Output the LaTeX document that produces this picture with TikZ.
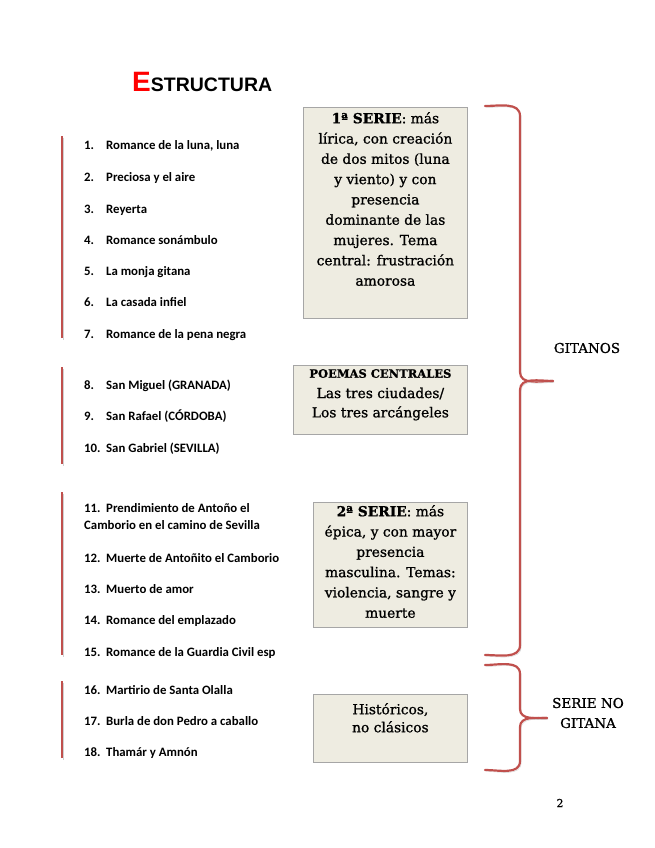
\documentclass[tikz,border=0pt]{standalone}
\usepackage{fontspec}
\setmainfont{DejaVu Serif}[FakeBold=1]
\setsansfont{Liberation Sans}
\newfontfamily\listfont{Carlito}
\usepackage{xcolor}
\usetikzlibrary{positioning}

\definecolor{boxfill}{HTML}{EEECE1}
\definecolor{boxline}{HTML}{A6A6A6}
\definecolor{bracered}{HTML}{C0504D}
\newcommand{\lnum}[1]{\makebox[22pt][l]{#1}}

\begin{document}
\begin{tikzpicture}[x=1pt, y=-1pt,
  item/.style={anchor=west, inner sep=0pt, text height=8pt, text depth=2.5pt, yshift=-2.5pt,
               font=\listfont\bfseries\fontsize{12.8}{17}\selectfont},
  twoline/.style={anchor=north west, inner sep=0pt, align=left, yshift=-2.5pt,
                  font=\listfont\bfseries\fontsize{12.8}{17}\selectfont},
  frame/.style={draw=boxline, line width=0.8pt, fill=boxfill, inner sep=0pt,
                anchor=north west},
  boxtext/.style={inner sep=0pt, align=center,
                  font=\fontsize{13.8}{20.3}\selectfont},
  side/.style={align=center, font=\fontsize{13.5}{20}\selectfont},
  shadow/.style={preaction={draw=black!18, transform canvas={shift={(1.2pt,-1.5pt)}}}},
  bar/.style={draw=bracered, line width=1.5pt, shadow},
  brace/.style={draw=bracered, line width=2.2pt, line cap=round, shadow}
]
  \useasboundingbox (0,0) rectangle (655,848);

  % title
  \node[anchor=base west, inner sep=0pt, font=\sffamily\bfseries] (title) at (132,92)
    {\textcolor{red}{\fontsize{28}{28}\selectfont E}\fontsize{19.5}{19.5}\selectfont STRUCTURA};

  % list of romances
  \node[item] (i1) at (84,144) {\lnum{1.}Romance de la luna, luna};
  \node[item] (i2) at (84,176) {\lnum{2.}Preciosa y el aire};
  \node[item] (i3) at (84,208) {\lnum{3.}Reyerta};
  \node[item] (i4) at (84,239) {\lnum{4.}Romance sonámbulo};
  \node[item] (i5) at (84,270) {\lnum{5.}La monja gitana};
  \node[item] (i6) at (84,301) {\lnum{6.}La casada infiel};
  \node[item] (i7) at (84,333) {\lnum{7.}Romance de la pena negra};

  \node[item] (i8) at (84,384) {\lnum{8.}San Miguel (GRANADA)};
  \node[item] (i9) at (84,415) {\lnum{9.}San Rafael (CÓRDOBA)};
  \node[item] (i10) at (84,447) {\lnum{10.}San Gabriel (SEVILLA)};

  \node[twoline] (i11) at (84,501)
    {\lnum{11.}Prendimiento de Antoño el\\Camborio en el camino de Sevilla};
  \node[item] (i12) at (84,557) {\lnum{12.}Muerte de Antoñito el Camborio};
  \node[item] (i13) at (84,588) {\lnum{13.}Muerto de amor};
  \node[item] (i14) at (84,619) {\lnum{14.}Romance del emplazado};
  \node[item] (i15) at (84,651) {\lnum{15.}Romance de la Guardia Civil esp};

  \node[item] (i16) at (84,689) {\lnum{16.}Martirio de Santa Olalla};
  \node[item] (i17) at (84,720) {\lnum{17.}Burla de don Pedro a caballo};
  \node[item] (i18) at (84,751) {\lnum{18.}Thamár y Amnón};

  % red bars beside the groups
  \draw[bar] (62,136) -- (62,338);
  \draw[bar] (62,367) -- (62,464);
  \draw[bar] (62,492) -- (62,655);
  \draw[bar] (62,681) -- (62,758);

  % boxes
  \node[frame, minimum width=164, minimum height=211] (serie1) at (303,107) {};
  \node[boxtext, below=5pt of serie1.north] (serie1txt)
    {\textbf{1ª SERIE}: más\\lírica, con creación\\de dos mitos (luna\\y viento) y con\\
     presencia\\dominante de las\\mujeres. Tema\\central: frustración\\amorosa};

  \node[frame, minimum width=174, minimum height=69] (centrales) at (293,365) {};
  \node[boxtext, below=4pt of centrales.north] (centralestxt)
    {{\bfseries\fontsize{11.5}{22}\selectfont POEMAS CENTRALES}\\Las tres ciudades/\\[-1pt]Los tres arcángeles};

  \node[frame, minimum width=154, minimum height=125] (serie2) at (313,502) {};
  \node[boxtext, below=3pt of serie2.north] (serie2txt)
    {\textbf{2ª SERIE}: más\\épica, y con mayor\\presencia\\masculina. Temas:\\violencia, sangre y\\muerte};

  \node[frame, minimum width=154, minimum height=68] (historicos) at (313,694) {};
  \node[boxtext, below=9pt of historicos.north, font=\fontsize{13.8}{18}\selectfont] (historicostxt)
    {Históricos,\\no clásicos};

  % braces
  \draw[brace] (485,106) to[out=0,in=90] (520,116) -- (520,372)
    to[out=-90,in=180] (553,381);
  \draw[brace] (553,381) to[out=180,in=90] (520,390) -- (520,645)
    to[out=-90,in=0] (485,655);
  \draw[brace] (485,665) to[out=0,in=90] (520,674) -- (520,709)
    to[out=-90,in=180] (547,718);
  \draw[brace] (547,718) to[out=180,in=90] (520,727) -- (520,761)
    to[out=-90,in=0] (485,770);

  \node[side] (gitanos) at (587,348) {GITANOS};
  \node[side] (nogitana) at (588,713) {SERIE NO\\GITANA};

  \node[font=\fontsize{11}{11}\selectfont] (page) at (560,803) {2};
\end{tikzpicture}
\end{document}
